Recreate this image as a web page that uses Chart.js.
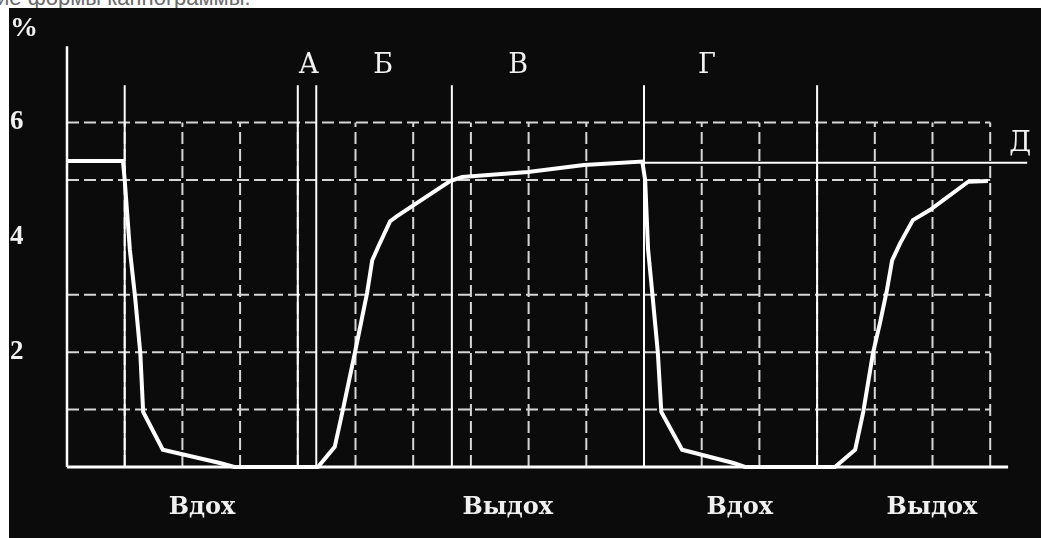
<!DOCTYPE html>
<html><head><meta charset="utf-8">
<script src="https://cdn.jsdelivr.net/npm/chart.js@4.4.0/dist/chart.umd.min.js"></script>
<style>
html,body{margin:0;padding:0;background:#fff;width:1041px;height:538px;overflow:hidden;}
#cap{position:absolute;left:0;top:0;width:420px;height:8px;overflow:hidden;}
#cap span{position:absolute;left:-3px;top:-13px;font:22px/22px "Liberation Sans",Arial,sans-serif;color:#6a6a6a;white-space:nowrap;}
#wrap{position:absolute;left:9px;top:8px;width:1032px;height:530px;background:#0b0b0b;}
canvas{display:block}
</style></head><body>
<div id="cap"><span>ие формы капнограммы.</span></div>
<div id="wrap"><canvas id="c" width="1032" height="530"></canvas></div>
<script>
// ---- data ----
const curveX = [0, 0.97, 1.0, 1.09, 1.18, 1.27, 1.32, 1.66, 2.65, 2.9, 4.35, 4.64, 4.78, 4.99, 5.2, 5.29, 5.4, 5.6, 5.72, 6.64, 6.85, 7.99, 8.96, 9.97,
                10.02, 10.07, 10.15, 10.24, 10.3, 10.66, 11.55, 11.75, 13.31, 13.66, 13.8, 13.97, 14.09, 14.21, 14.3, 14.44, 14.66, 14.96, 15.62, 15.96];
const curveY = [5.33, 5.33, 5.0, 3.78, 2.96, 1.99, 0.96, 0.3, 0.07, 0, 0, 0.35, 0.99, 1.99, 3.03, 3.6, 3.85, 4.28, 4.37, 4.98, 5.05, 5.14, 5.26, 5.32,
                5.0, 3.8, 2.96, 1.99, 0.96, 0.3, 0.07, 0, 0, 0.3, 0.96, 1.99, 2.51, 3.08, 3.6, 3.9, 4.3, 4.48, 4.97, 4.98];

const yTicks = [2, 4, 6];
const unitLabel = '%';
const phaseLabels = ['Вдох', 'Выдох', 'Вдох', 'Выдох'];
const phaseX = [2.34, 7.64, 11.66, 14.99];

const markerLabels = ['А', 'Б', 'В', 'Г', 'Д'];
const markerX = [4.19, 5.48, 7.82, 11.09, 16.52];
const markerY = [6.99, 6.99, 6.99, 6.99, 5.62];

const gridYLevels = [1, 2, 3, 5, 6];
const gridXLevels = [1, 2, 3, 4, 5, 6, 7, 8, 9, 10, 11, 12, 13, 14, 15, 16];
const gridRight = 16, gridTop = 6;
const solidX = [1.0, 4.0, 4.32, 6.67, 10.0, 13.0];
const solidTop = 6.65;
const axisTop = 7.33;
const baseRight = 16.31;
const levelD = 5.30, levelDStart = 10.0, levelDEnd = 16.64;

// ---- datasets ----
const W = '#ffffff', G = '#d6d6d6';
function seg(pts, color, width, dash) {
  return {data: pts, borderColor: color, borderWidth: width, borderDash: dash || [], showLine: true,
          pointRadius: 0, tension: 0, fill: false, clip: false, borderCapStyle: 'butt'};
}
const datasets = [];
datasets.push(seg(curveX.map((x, i) => ({x, y: curveY[i]})), W, 4));
datasets.push(seg([{x: levelDStart, y: levelD}, {x: levelDEnd, y: levelD}], W, 2));
datasets.push(seg([{x: 0, y: 0}, {x: 0, y: axisTop}], W, 2.5));
datasets.push(seg([{x: 0, y: 0}, {x: baseRight, y: 0}], W, 3));
solidX.forEach(v => datasets.push(seg([{x: v, y: 0}, {x: v, y: solidTop}], W, 2)));
gridYLevels.forEach(v => datasets.push(seg([{x: 0, y: v}, {x: gridRight, y: v}], G, 2, [12, 5])));
gridXLevels.forEach(v => datasets.push(seg([{x: v, y: 0}, {x: v, y: gridTop}], G, 2, [12, 5])));

const annot = {
  id: 'annot',
  afterDatasetsDraw(chart) {
    const {ctx, scales: {x, y}} = chart;
    ctx.save();
    ctx.fillStyle = '#f2f2f2';
    ctx.textAlign = 'center';
    ctx.textBaseline = 'middle';
    ctx.font = '27px "DejaVu Serif"';
    markerLabels.forEach((t, i) => ctx.fillText(t, x.getPixelForValue(markerX[i]), y.getPixelForValue(markerY[i])));
    ctx.font = 'bold 28px "Liberation Serif"';
    ctx.textAlign = 'left';
    ctx.fillText(unitLabel, 1, y.getPixelForValue(7.63));
    ctx.restore();
  }
};

new Chart(document.getElementById('c'), {
  type: 'scatter',
  data: {datasets},
  options: {
    responsive: false,
    animation: false,
    layout: {padding: {top: 37, right: 10.4, bottom: 0, left: 1}},
    plugins: {legend: {display: false}, tooltip: {enabled: false}},
    scales: {
      x: {
        type: 'linear', min: 0, max: 16.7,
        grid: {display: false, drawTicks: false}, border: {display: false},
        afterBuildTicks: a => { a.ticks = phaseX.map(v => ({value: v})); },
        afterFit: a => { a.height = 71; },
        ticks: {callback: (v, i) => phaseLabels[i], autoSkip: false, maxRotation: 0, minRotation: 0,
                color: '#f0f0f0', padding: 26, font: {family: '"DejaVu Serif"', size: 24, weight: 'bold'}}
      },
      y: {
        type: 'linear', min: 0, max: 7.35,
        grid: {display: false, drawTicks: false}, border: {display: false},
        afterBuildTicks: a => { a.ticks = yTicks.map(v => ({value: v})); },
        afterFit: a => { a.width = 57; },
        ticks: {callback: v => String(v), crossAlign: 'far', color: '#f0f0f0', padding: 0,
                font: {family: '"Liberation Serif"', size: 27, weight: 'bold'}}
      }
    }
  },
  plugins: [annot]
});
</script>
</body></html>
